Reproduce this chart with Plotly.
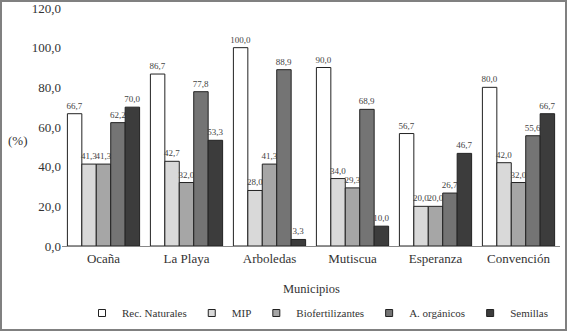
import plotly.graph_objects as go

municipios = ["Ocaña", "La Playa", "Arboledas", "Mutiscua", "Esperanza", "Convención"]
series_names = ["Rec. Naturales", "MIP", "Biofertilizantes", "A. orgánicos", "Semillas"]
rec_naturales = [66.7, 86.7, 100.0, 90.0, 56.7, 80.0]
mip = [41.3, 42.7, 28.0, 34.0, 20.0, 42.0]
biofertilizantes = [41.3, 32.0, 41.3, 29.3, 20.0, 32.0]
a_organicos = [62.2, 77.8, 88.9, 68.9, 26.7, 55.6]
semillas = [70.0, 53.3, 3.3, 10.0, 46.7, 66.7]
y_ticks = [0, 20, 40, 60, 80, 100, 120]
y_tick_labels = ["0,0", "20,0", "40,0", "60,0", "80,0", "100,0", "120,0"]

colors = ["#ffffff", "#d9d9d9", "#a6a6a6", "#747474", "#3c3c3c"]
all_values = [rec_naturales, mip, biofertilizantes, a_organicos, semillas]

FONT = "Liberation Serif, Times New Roman, serif"
W, H = 567, 331
L, R, T, B = 62, 7, 8, 85

fig = go.Figure()
for name, vals, col in zip(series_names, all_values, colors):
    fig.add_trace(go.Bar(
        x=municipios, y=vals, name=name, showlegend=False,
        marker=dict(color=col, line=dict(color="#222222", width=1)),
        text=[f"{v:.1f}".replace(".", ",") for v in vals],
        textposition="outside",
        textfont=dict(family=FONT, size=9, color="#444444"),
        constraintext="none",
        cliponaxis=False,
    ))
# legend entries with small square swatches
for name, col in zip(series_names, colors):
    fig.add_trace(go.Scatter(
        x=[None], y=[None], mode="markers", name=name,
        marker=dict(symbol="square", size=7, color=col, line=dict(color="#222222", width=1)),
    ))

pw = W - L - R
ph = H - T - B

fig.update_layout(
    width=W, height=H,
    margin=dict(l=L, r=R, t=T, b=B, autoexpand=False),
    paper_bgcolor="white", plot_bgcolor="white",
    barmode="group", bargap=0.13, bargroupgap=0.0,
    font=dict(family=FONT, size=13, color="#333333"),
    showlegend=True,
    legend=dict(orientation="h", x=0.5 + 7 / pw, xanchor="center", y=-(313 - (H - B)) / ph,
                yanchor="middle", font=dict(family=FONT, size=11, color="#333333"),
                itemwidth=30, tracegroupgap=0),
    xaxis=dict(showline=True, linecolor="#888888", linewidth=1, ticks="", automargin=False,
               tickfont=dict(family=FONT, size=13, color="#333333"), showgrid=False),
    yaxis=dict(range=[0, 120], tickvals=y_ticks, ticktext=y_tick_labels, automargin=False,
               showgrid=False, zeroline=False, showline=False, ticks="",
               tickfont=dict(family=FONT, size=13, color="#333333")),
    annotations=[
        dict(text="Municipios", xref="paper", yref="paper", x=0.5,
             y=-(289 - (H - B)) / ph, xanchor="center", yanchor="middle",
             showarrow=False, font=dict(family=FONT, size=12.5, color="#333333")),
        dict(text="(%)", xref="paper", yref="paper", x=-(L - 6) / pw,
             y=(H - B - 140) / ph, xanchor="left", yanchor="middle",
             showarrow=False, font=dict(family=FONT, size=13, color="#333333")),
    ],
    shapes=[dict(type="rect", xref="paper", yref="paper",
                 x0=-(L - 1) / pw, x1=1 + (R - 1) / pw,
                 y0=-(B - 1) / ph, y1=1 + (T - 1) / ph,
                 line=dict(color="#808080", width=2), fillcolor="rgba(0,0,0,0)")],
)

fig.write_html("out.html", config={"displayModeBar": False},
               post_script="document.body.style.margin='0';document.body.style.overflow='hidden';")
